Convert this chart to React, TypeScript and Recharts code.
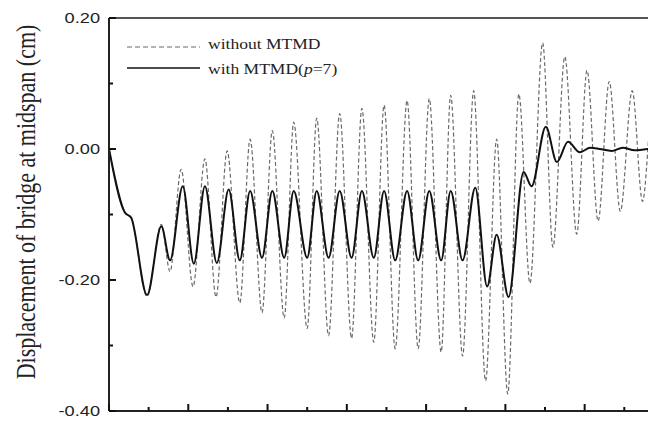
import React from 'react';
import { LineChart, Line, XAxis, YAxis, ReferenceLine } from 'recharts';

// time axis (one major tick per unit)
const tWithout = [0, 0.2, 0.28, 0.48, 0.66, 0.77, 0.91, 1.06, 1.21, 1.35, 1.49, 1.65, 1.78, 1.93, 2.06, 2.21, 2.33, 2.5, 2.62, 2.77, 2.91, 3.06, 3.19, 3.34, 3.47, 3.61, 3.76, 3.9, 4.04, 4.19, 4.31, 4.46, 4.6, 4.75, 4.89, 5.03, 5.17, 5.31, 5.47, 5.6, 5.75, 5.9, 6.03, 6.17, 6.31, 6.45, 6.6, 6.73, 6.86, 6.9];
const dWithout = [0, -0.097, -0.105, -0.225, -0.115, -0.187, -0.031, -0.21, -0.015, -0.226, -0.003, -0.235, 0.015, -0.25, 0.028, -0.258, 0.041, -0.274, 0.047, -0.285, 0.054, -0.289, 0.062, -0.295, 0.067, -0.305, 0.074, -0.305, 0.077, -0.31, 0.082, -0.316, 0.089, -0.354, 0.015, -0.374, 0.084, -0.205, 0.162, -0.15, 0.141, -0.13, 0.12, -0.11, 0.103, -0.095, 0.089, -0.08, 0.072, 0.06];

const tWith = [0, 0.2, 0.28, 0.48, 0.66, 0.77, 0.93, 1.07, 1.21, 1.36, 1.51, 1.65, 1.78, 1.93, 2.06, 2.21, 2.33, 2.5, 2.62, 2.77, 2.91, 3.06, 3.19, 3.34, 3.47, 3.61, 3.76, 3.9, 4.04, 4.19, 4.31, 4.46, 4.62, 4.77, 4.89, 5.04, 5.23, 5.33, 5.51, 5.65, 5.79, 5.94, 6.07, 6.19, 6.34, 6.48, 6.63, 6.82, 6.9];
const dWith = [0, -0.097, -0.105, -0.223, -0.118, -0.17, -0.057, -0.175, -0.057, -0.174, -0.062, -0.17, -0.064, -0.166, -0.064, -0.166, -0.064, -0.166, -0.064, -0.166, -0.064, -0.166, -0.064, -0.166, -0.064, -0.17, -0.064, -0.17, -0.064, -0.17, -0.064, -0.17, -0.059, -0.21, -0.131, -0.226, -0.035, -0.057, 0.034, -0.02, 0.011, -0.005, 0.002, 0.0, -0.003, 0.002, -0.002, 0.0, 0.0];

const xTicks = [0, 0.5, 1, 1.5, 2, 2.5, 3, 3.5, 4, 4.5, 5, 5.5, 6, 6.5];
const yTicks = [-0.4, -0.3, -0.2, -0.1, 0, 0.1, 0.2];
const yMajor = [-0.4, -0.2, 0, 0.2];

const withoutData = tWithout.map((t, i) => ({ t, d: dWithout[i] }));
const withData = tWith.map((t, i) => ({ t, d: dWith[i] }));

const W = 648;
const H = 413;
const TOP = 10;
const X_AXIS_H = 10;
const Y_AXIS_W = 101;
const axisY = H - X_AXIS_H; // where the bottom axis line sits
const axisX = Y_AXIS_W; // where the left axis line sits

const sans = '"Liberation Sans", Arial, sans-serif';
const serif = '"Liberation Serif", "Times New Roman", serif';

// ticks point into the plot, longer at whole units
const XTick = (props: any) => {
  const { x, payload } = props;
  const major = Number.isInteger(payload.value);
  return <line x1={x} x2={x} y1={axisY} y2={axisY - (major ? 7 : 4)} stroke="#111" strokeWidth={2} />;
};

const YTick = (props: any) => {
  const { y, payload } = props;
  const v = payload.value;
  const major = yMajor.some((m) => Math.abs(m - v) < 1e-6);
  return (
    <g>
      <line x1={axisX} x2={axisX + (major ? 7 : 4)} y1={y} y2={y} stroke="#111" strokeWidth={2} />
      {major && (
        <text
          transform={`translate(${axisX - 9},${y}) scale(1.3,1)`}
          textAnchor="end"
          dominantBaseline="central"
          fontFamily={sans}
          fontSize={14}
          fill="#222"
        >
          {v.toFixed(2)}
        </text>
      )}
    </g>
  );
};

export default function App() {
  return (
    <div style={{ position: 'relative', width: W, height: H }}>
      <LineChart width={W} height={H} margin={{ top: TOP, right: 0, bottom: 0, left: 0 }}>
        <XAxis
          dataKey="t"
          type="number"
          domain={[0, 6.9]}
          ticks={xTicks}
          interval={0}
          height={X_AXIS_H}
          tick={<XTick />}
          tickLine={false}
          axisLine={{ stroke: '#222', strokeWidth: 2 }}
          allowDataOverflow
        />
        <YAxis
          type="number"
          domain={[-0.4, 0.2]}
          ticks={yTicks}
          interval={0}
          width={Y_AXIS_W}
          tick={<YTick />}
          tickLine={false}
          axisLine={{ stroke: '#222', strokeWidth: 2 }}
          allowDataOverflow
        />
        <ReferenceLine y={0.2} stroke="#555" strokeWidth={2} />
        <Line
          data={withoutData}
          dataKey="d"
          type="monotone"
          stroke="#6a6a6a"
          strokeWidth={1.2}
          strokeDasharray="4 2.5"
          dot={false}
          isAnimationActive={false}
        />
        <Line
          data={withData}
          dataKey="d"
          type="monotone"
          stroke="#111"
          strokeWidth={2}
          dot={false}
          isAnimationActive={false}
        />
      </LineChart>
      <svg width={W} height={H} style={{ position: 'absolute', left: 0, top: 0, pointerEvents: 'none' }}>
        <text
          transform="translate(18,194) scale(1.2,1) rotate(-90)"
          textAnchor="middle"
          dominantBaseline="central"
          fontFamily={serif}
          fontSize={22}
          fill="#222"
        >
          Displacement of bridge at midspan (cm)
        </text>
        <line x1={119} x2={192} y1={39} y2={39} stroke="#6a6a6a" strokeWidth={1.2} strokeDasharray="5 3" />
        <text transform="translate(200,41) scale(1.17,1)" fontFamily={serif} fontSize={15} fill="#222">
          without MTMD
        </text>
        <line x1={119} x2={192} y1={60} y2={60} stroke="#111" strokeWidth={1.6} />
        <text transform="translate(200,66) scale(1.17,1)" fontFamily={serif} fontSize={15} fill="#222">
          with MTMD(<tspan fontStyle="italic">p</tspan>=7)
        </text>
      </svg>
    </div>
  );
}
